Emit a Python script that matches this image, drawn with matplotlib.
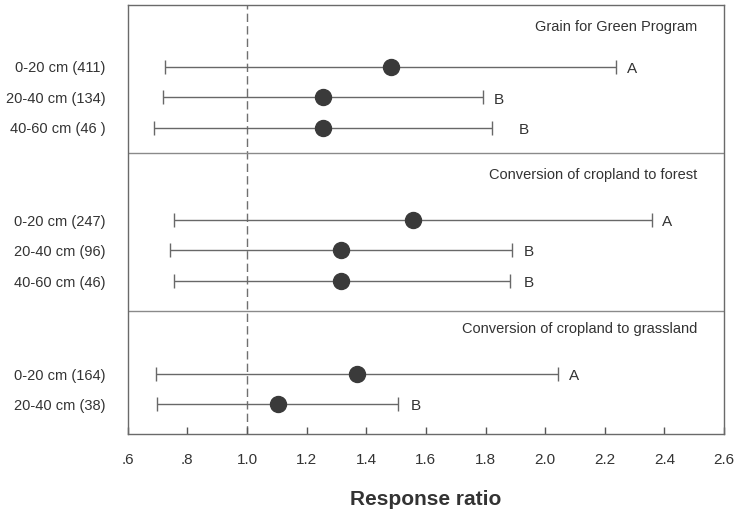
import matplotlib

matplotlib.use("Agg")
import matplotlib.pyplot as plt

plt.rcParams["font.family"] = ["Liberation Sans", "DejaVu Sans"]

# data
groups = ["Grain for Green Program",
          "Conversion of cropland to forest",
          "Conversion of cropland to grassland"]
row_labels = ["0-20 cm (411)", "20-40 cm (134)", "40-60 cm (46 )",
              "0-20 cm (247)", "20-40 cm (96)", "40-60 cm (46)",
              "0-20 cm (164)", "20-40 cm (38)"]
means = [1.482, 1.254, 1.254, 1.558, 1.314, 1.316, 1.369, 1.103]
lower = [0.725, 0.717, 0.689, 0.756, 0.743, 0.754, 0.696, 0.698]
upper = [2.237, 1.790, 1.823, 2.357, 1.890, 1.883, 2.042, 1.508]
letters = ["A", "B", "B", "A", "B", "B", "A", "B"]

# layout (row units, counted from the top)
row_y = [2.05, 3.06, 4.06, 7.11, 8.10, 9.13, 12.19, 13.18]
title_y = [0.73, 5.62, 10.71]
sep_y = [4.90, 10.10]
letter_dx = [8, 8, 19, 7.5, 8.5, 10, 8.5, 9]
y_max = 14.17

fig = plt.figure(figsize=(7.37, 5.13), dpi=100)
ax = fig.add_axes([0.1733, 0.154, 0.8091, 0.8368])

xerr = [[m - lo for m, lo in zip(means, lower)],
        [hi - m for m, hi in zip(means, upper)]]
ax.errorbar(means, row_y, xerr=xerr, fmt="o", color="#3a3a3a", ms=11.5,
            ecolor="#686868", elinewidth=1.0, capsize=5, capthick=1.0, zorder=3)

for x, y, t, dx in zip(upper, row_y, letters, letter_dx):
    ax.annotate(t, (x, y), xytext=(dx, -1.5), textcoords="offset points",
                ha="left", va="center", fontsize=11, color="#333333")

for t, y in zip(groups, title_y):
    ax.text(0.955, y, t, transform=ax.get_yaxis_transform(), ha="right",
            va="center", fontsize=10.5, color="#333333")

for y in sep_y:
    ax.axhline(y, color="#8a8a8a", lw=1.0)

ax.axvline(1.0, color="#707070", lw=1.0, ls=(0, (6, 3)), zorder=1)

ax.set_xlim(0.6, 2.6)
ax.set_ylim(y_max, 0)
xt = [0.6, 0.8, 1.0, 1.2, 1.4, 1.6, 1.8, 2.0, 2.2, 2.4, 2.6]
ax.set_xticks(xt, [".6", ".8"] + [f"{v:.1f}" for v in xt[2:]])
ax.set_yticks(row_y, row_labels)
ax.tick_params(axis="x", direction="in", length=5, width=1.0, color="#555555",
               labelsize=11, labelcolor="#333333", pad=14)
ax.tick_params(axis="y", length=0, labelsize=10.5, labelcolor="#333333", pad=16)
for s in ax.spines.values():
    s.set_color("#6a6a6a")
    s.set_linewidth(1.0)

ax.set_xlabel("Response ratio", fontsize=15, fontweight="bold", color="#333333",
              labelpad=16)

fig.savefig("out.png", dpi=100)
